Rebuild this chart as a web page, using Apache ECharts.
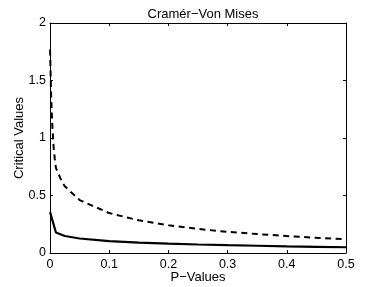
<!DOCTYPE html>
<html>
<head>
<meta charset="utf-8">
<script src="https://cdn.jsdelivr.net/npm/echarts@6/dist/echarts.min.js"></script>
<style>
html,body{margin:0;padding:0;background:#fff;}
#chart{width:382px;height:287px;}
</style>
</head>
<body>
<div id="chart"></div>
<script>
// P-values (x) for the dashed curve
var pDashed = [0.0001, 0.002, 0.004, 0.006, 0.008, 0.01, 0.02, 0.025, 0.05, 0.1, 0.15, 0.2, 0.25, 0.3, 0.35, 0.4, 0.45, 0.5];
var dashedValues = [1.77, 1.35, 1.10, 0.93, 0.82, 0.74, 0.62, 0.58, 0.46, 0.347, 0.284, 0.241, 0.209, 0.184, 0.165, 0.147, 0.132, 0.119];
// P-values (x) for the solid curve
var pSolid = [0.0001, 0.01, 0.025, 0.05, 0.1, 0.15, 0.2, 0.25, 0.3, 0.35, 0.4, 0.45, 0.5];
var solidValues = [0.355, 0.178, 0.148, 0.126, 0.104, 0.091, 0.081, 0.074, 0.068, 0.063, 0.058, 0.054, 0.05];

var titleText = 'Cramér\u2212Von Mises';
var xName = 'P\u2212Values';
var yName = 'Critical Values';

function pairs(xs, ys){ return xs.map(function(x,i){ return [x, ys[i]]; }); }

var font = 'Liberation Sans, Arial, Helvetica, sans-serif';
var chart = echarts.init(document.getElementById('chart'), null, {renderer:'canvas'});
var axisLineStyle = {color:'#000', width:1};
chart.setOption({
  animation:false,
  backgroundColor:'#fff',
  title:{text:titleText, left:198, textAlign:'center', top:3,
    textStyle:{fontFamily:font, fontSize:13, fontWeight:'normal', color:'#000'}},
  grid:{left:50, right:36, top:23, bottom:34, containLabel:false, outerBoundsMode:'none'},
  xAxis:[{
    type:'value', min:0, max:0.5, interval:0.1, position:'bottom',
    name:xName, nameLocation:'middle', nameGap:18, nameMoveOverlap:false,
    nameTextStyle:{fontFamily:font, fontSize:13, color:'#000'},
    axisLine:{show:true, onZero:false, lineStyle:axisLineStyle},
    axisTick:{show:true, inside:true, length:3, lineStyle:axisLineStyle},
    axisLabel:{fontFamily:font, fontSize:12.5, color:'#000', margin:5},
    splitLine:{show:false}
  },{
    type:'value', min:0, max:0.5, interval:0.1, position:'top',
    axisLine:{show:true, onZero:false, lineStyle:axisLineStyle},
    axisTick:{show:true, inside:true, length:3, lineStyle:axisLineStyle},
    axisLabel:{show:false}, splitLine:{show:false}
  }],
  yAxis:[{
    type:'value', min:0, max:2, interval:0.5, position:'left',
    name:yName, nameLocation:'middle', nameGap:24, nameMoveOverlap:false,
    nameTextStyle:{fontFamily:font, fontSize:13, color:'#000'},
    axisLine:{show:true, onZero:false, lineStyle:axisLineStyle},
    axisTick:{show:true, inside:true, length:3, lineStyle:axisLineStyle},
    axisLabel:{fontFamily:font, fontSize:12.5, color:'#000', margin:4},
    splitLine:{show:false}
  },{
    type:'value', min:0, max:2, interval:0.5, position:'right',
    axisLine:{show:true, onZero:false, lineStyle:axisLineStyle},
    axisTick:{show:true, inside:true, length:3, lineStyle:axisLineStyle},
    axisLabel:{show:false}, splitLine:{show:false}
  }],
  series:[{
    type:'line', data:pairs(pDashed, dashedValues), showSymbol:false, smooth:false,
    lineStyle:{color:'#000', width:2, type:[6,4.5], cap:'butt'}
  },{
    type:'line', data:pairs(pSolid, solidValues), showSymbol:false, smooth:false,
    lineStyle:{color:'#000', width:2.2, type:'solid'}
  }]
});
</script>
</body>
</html>
